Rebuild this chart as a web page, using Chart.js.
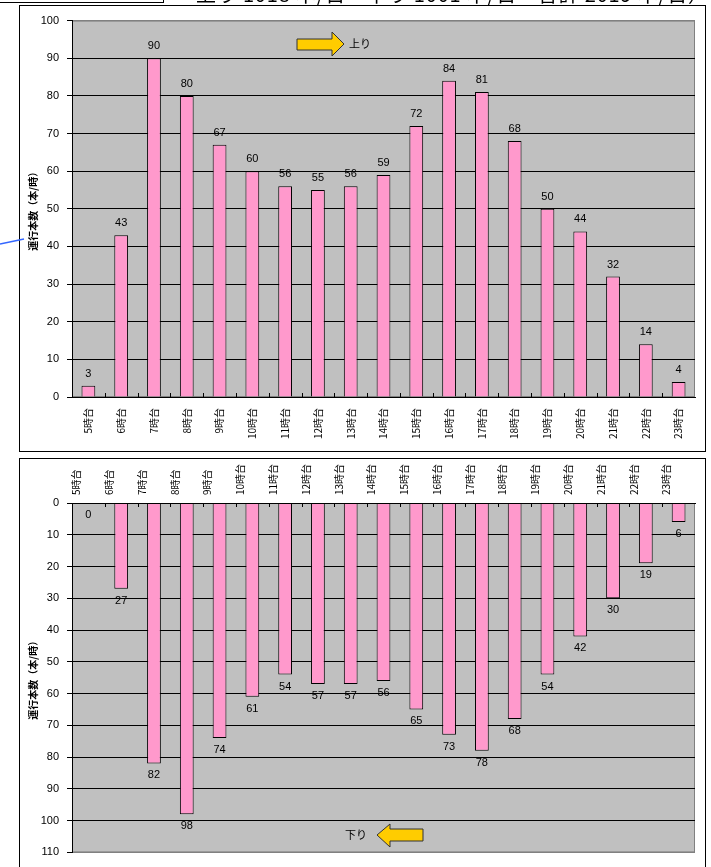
<!DOCTYPE html>
<html lang="ja">
<head>
<meta charset="utf-8">
<title>時間帯別運行本数</title>
<script src="https://cdn.jsdelivr.net/npm/chart.js@4.4.1/dist/chart.umd.min.js"></script>
<style>
html, body { margin: 0; padding: 0; background: #fff; }
body { width: 711px; height: 867px; position: relative; overflow: hidden; font-family: 'Noto Sans CJK JP', sans-serif; }
.frame { position: absolute; border: 1px solid #000; box-sizing: border-box; }
canvas { position: absolute; }
svg { position: absolute; left: 0; top: 0; }
</style>
</head>
<body>
<div class="frame" style="left:-1px; top:-20px; width:165px; height:23px;"></div>
<div class="frame" style="left:19px; top:5px; width:687px; height:447px;"></div>
<div class="frame" style="left:19px; top:458px; width:687px; height:420px;"></div>
<canvas id="upChart" width="685" height="445" style="left:20px; top:6px;"></canvas>
<canvas id="downChart" width="685" height="408" style="left:20px; top:459px;"></canvas>
<svg width="711" height="867">
  <text x="196" y="2" font-size="20" textLength="512" lengthAdjust="spacing" fill="#000">上り 1018 本/日　下り 1001 本/日　合計 2019 本/日）</text>
  <line x1="0" y1="244" x2="24" y2="239" stroke="#3366ff" stroke-width="1.5"/>
  <polygon points="297,39 332,39 332,32 344,44 332,56 332,50 297,50" fill="#ffcc00" stroke="#333" stroke-width="1"/>
  <text x="349" y="48" font-size="11" fill="#000">上り</text>
  <polygon points="377,835 390,824 390,829 423,829 423,841 390,841 390,847" fill="#ffcc00" stroke="#333" stroke-width="1"/>
  <text x="345" y="839" font-size="11" fill="#000">下り</text>
</svg>
<script>
// 時間帯
const hours = ['5時台', '6時台', '7時台', '8時台', '9時台', '10時台', '11時台', '12時台', '13時台', '14時台',
    '15時台', '16時台', '17時台', '18時台', '19時台', '20時台', '21時台', '22時台', '23時台'];
// 上り 運行本数
const upCounts = [3, 43, 90, 80, 67, 60, 56, 55, 56, 59, 72, 84, 81, 68, 50, 44, 32, 14, 4];
// 下り 運行本数
const downCounts = [0, 27, 82, 98, 74, 61, 54, 57, 57, 56, 65, 73, 78, 68, 54, 42, 30, 19, 6];
const axisTitle = '運行本数（本/時）';

const numFont = "'Liberation Sans Narrow', 'Liberation Sans', 'Noto Sans CJK JP', sans-serif";
Chart.defaults.font.family = numFont;
Chart.defaults.color = '#000';

//Gray plot background with a thin border
const plotBg = {
    id: 'plotBg',
    beforeDraw(chart) {
        const a = chart.chartArea;
        const ctx = chart.ctx;
        ctx.save();
        ctx.fillStyle = '#c0c0c0';
        ctx.fillRect(a.left, a.top, a.right - a.left, a.bottom - a.top);
        ctx.strokeStyle = '#808080';
        ctx.lineWidth = 1;
        ctx.strokeRect(a.left + 0.5, a.top + 0.5, a.right - a.left - 1, a.bottom - a.top - 1);
        ctx.restore();
    }
};

//Value labels at the end of every bar, plus the small inner ticks on the category axis
const barLabels = {
    id: 'barLabels',
    afterDatasetsDraw(chart, args, opts) {
        const ctx = chart.ctx;
        const meta = chart.getDatasetMeta(0);
        const values = chart.data.datasets[0].data;
        const xs = chart.scales.x;
        ctx.save();
        ctx.font = '11px ' + numFont;
        ctx.fillStyle = '#000';
        ctx.textAlign = 'center';
        ctx.textBaseline = 'middle';
        meta.data.forEach(function (bar, i) {
            ctx.fillText(values[i], bar.x, bar.y + opts.offset);
        });
        const axisY = opts.offset < 0 ? chart.chartArea.bottom : chart.chartArea.top;
        const dir = opts.offset < 0 ? -1 : 1;
        ctx.strokeStyle = '#000';
        ctx.lineWidth = 1;
        for (let i = 1; i < values.length; i++) {
            const x = Math.round((xs.getPixelForValue(i - 1) + xs.getPixelForValue(i)) / 2) + 0.5;
            ctx.beginPath();
            ctx.moveTo(x, axisY);
            ctx.lineTo(x, axisY + dir * 4);
            ctx.stroke();
        }
        ctx.restore();
    }
};

function makeChart(id, values, max, reverse, xPos, xHeight, padding, labelOffset) {
    return new Chart(document.getElementById(id), {
        type: 'bar',
        data: {
            labels: hours,
            datasets: [{
                data: values,
                backgroundColor: '#ff99cc',
                borderColor: '#000',
                borderWidth: 1,
                categoryPercentage: 1,
                barPercentage: 0.42
            }]
        },
        options: {
            responsive: false,
            animation: false,
            devicePixelRatio: 1,
            layout: { padding: padding },
            plugins: {
                legend: { display: false },
                tooltip: { enabled: false },
                barLabels: { offset: labelOffset }
            },
            scales: {
                x: {
                    position: xPos,
                    grid: { display: false, drawTicks: false },
                    border: { display: true, color: '#000', width: 1, z: 1 },
                    ticks: {
                        autoSkip: false,
                        minRotation: 90,
                        maxRotation: 90,
                        padding: xPos === 'top' ? 8 : 11,
                        font: { size: 10, family: "'Noto Sans CJK JP', sans-serif" }
                    },
                    afterFit: function (s) { s.height = xHeight; }
                },
                y: {
                    min: 0,
                    max: max,
                    reverse: reverse,
                    grid: {
                        color: function (c) { return c.tick && c.tick.value === max ? '#808080' : '#000'; },
                        tickColor: '#000',
                        tickLength: 5,
                        lineWidth: 1
                    },
                    border: { display: true, color: '#000', width: 1 },
                    ticks: { stepSize: 10, padding: 8, font: { size: 11 } },
                    title: {
                        display: true,
                        text: axisTitle,
                        font: { size: 10, weight: 'bold', family: "'Noto Sans CJK JP', sans-serif" },
                        padding: { top: 7, bottom: 0 }
                    },
                    afterFit: function (s) { s.width = 52; }
                }
            }
        },
        plugins: [plotBg, barLabels]
    });
}

makeChart('upChart', upCounts, 100, false, 'bottom', 54, { top: 10, right: 10, bottom: 0, left: 0 }, -12);
makeChart('downChart', downCounts, 110, true, 'top', 44, { top: 0, right: 10, bottom: 11, left: 0 }, 12);
</script>
</body>
</html>
